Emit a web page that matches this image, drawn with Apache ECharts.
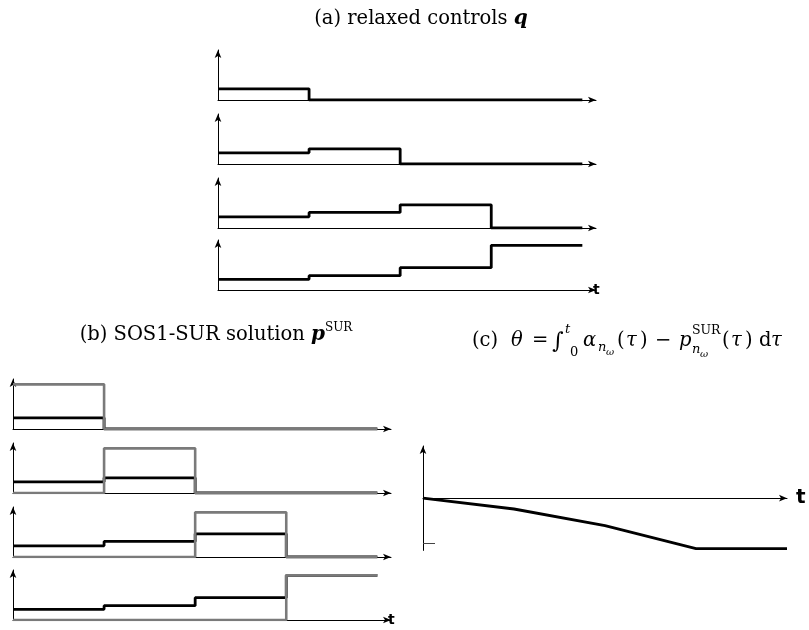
<!DOCTYPE html>
<html>
<head>
<meta charset="utf-8"/>
<title>SOS1-SUR rounding</title>
<script src="https://cdn.jsdelivr.net/npm/echarts@6/dist/echarts.min.js"></script>
<style>
html,body{margin:0;padding:0;background:#fff;}
#main{width:809px;height:630px;}
</style>
</head>
<body>
<div id="main"></div>
<script>
// time points bounding the four intervals
var tPoints = [0, 1, 2, 3, 4];

// (a) relaxed controls q, one value per interval
var q1 = [0.25, 0, 0, 0];
var q2 = [0.25, 0.34, 0, 0];
var q3 = [0.25, 0.35, 0.52, 0];
var q4 = [0.24, 0.32, 0.5, 1];

// (b) SOS1-SUR solution p
var p1 = [1, 0, 0, 0];
var p2 = [0, 1, 0, 0];
var p3 = [0, 0, 1, 0];
var p4 = [0, 0, 0, 1];

// (c) accumulated deviation theta at each time point
var theta = [0, -0.24, -0.61, -1.12, -1.12];
var thetaTicks = [-1];

var serif = '"DejaVu Serif", serif';
var chart = echarts.init(document.getElementById('main'));

var grids = [], xAxes = [], yAxes = [], series = [];

function stepData(vals) {
	return tPoints.map(function (t, i) {
		return [t, vals[Math.min(i, vals.length - 1)]];
	});
}

var axisLine = {
	show: true, onZero: false,
	symbol: ['none', 'arrow'], symbolSize: [5, 8],
	lineStyle: {color: '#000', width: 1}
};

function addSmall(left, base, showT, black, gray) {
	var gi = grids.length;
	grids.push({left: left, top: base - 50, width: 378, height: 50});
	xAxes.push({
		gridIndex: gi, type: 'value', min: 0, max: 4.15,
		axisLine: axisLine, axisTick: {show: false}, axisLabel: {show: false}, splitLine: {show: false},
		name: showT ? 't' : '', nameLocation: 'end', nameGap: -3,
		nameTextStyle: {fontFamily: 'DejaVu Sans', fontWeight: 'bold', fontSize: 14, color: '#000'}
	});
	yAxes.push({
		gridIndex: gi, type: 'value', min: 0, max: 1.12,
		axisLine: axisLine, axisTick: {show: false}, axisLabel: {show: false}, splitLine: {show: false}
	});
	series.push({
		type: 'line', step: 'end', xAxisIndex: gi, yAxisIndex: gi, data: stepData(black),
		showSymbol: false, silent: true, z: 3,
		lineStyle: {color: '#000', width: 2.8}
	});
	if (gray) {
		series.push({
			type: 'line', step: 'end', xAxisIndex: gi, yAxisIndex: gi, data: stepData(gray),
			showSymbol: false, silent: true, z: 4,
			lineStyle: {color: '#7a7a7a', width: 2.6}
		});
	}
}

var qs = [q1, q2, q3, q4];
var ps = [p1, p2, p3, p4];
var baseA = [100, 164, 228, 290];
var baseB = [429, 493, 557, 620];
for (var k = 0; k < 4; k++) addSmall(218, baseA[k], k === 3, qs[k], null);
for (var k = 0; k < 4; k++) addSmall(13, baseB[k], k === 3, qs[k], ps[k]);

// panel (c)
var gc = grids.length;
grids.push({left: 423, top: 446, width: 364, height: 104.4});
xAxes.push({
	gridIndex: gc, type: 'value', min: 0, max: 4,
	axisLine: {show: true, symbol: ['none', 'arrow'], symbolSize: [5, 8], lineStyle: {color: '#000', width: 1}},
	axisTick: {show: false}, axisLabel: {show: false}, splitLine: {show: false},
	name: 't', nameLocation: 'end', nameGap: 9,
	nameTextStyle: {fontFamily: 'DejaVu Sans', fontWeight: 'bold', fontSize: 20, color: '#000'}
});
yAxes.push({
	gridIndex: gc, type: 'value', min: -1.16, max: 1.16,
	axisLine: {show: true, symbol: ['none', 'arrow'], symbolSize: [5, 8], lineStyle: {color: '#000', width: 1}},
	axisTick: {show: true, inside: true, length: 12, customValues: thetaTicks, lineStyle: {color: '#444', width: 1}},
	axisLabel: {show: false}, splitLine: {show: false}
});
series.push({
	type: 'line', xAxisIndex: gc, yAxisIndex: gc,
	data: tPoints.map(function (t, i) { return [t, theta[i]]; }),
	showSymbol: false, silent: true, z: 3,
	lineStyle: {color: '#000', width: 2.8}
});

// helper for the formula pieces
function txt(x, y, s, size, italic) {
	return {type: 'text', x: x, y: y, silent: true, style: {
		text: s, fill: '#000',
		font: (italic ? 'italic ' : '') + size + 'px ' + serif,
		align: 'left', textAlign: 'left', verticalAlign: 'middle', textVerticalAlign: 'middle'
	}};
}

var titleRich = {
	r: {fontFamily: 'DejaVu Serif', fontSize: 19.5, lineHeight: 26, verticalAlign: 'middle'},
	b: {fontFamily: 'DejaVu Serif', fontSize: 20, fontWeight: 'bold', fontStyle: 'italic', lineHeight: 26, verticalAlign: 'middle'},
	sup: {fontFamily: 'DejaVu Serif', fontSize: 12, lineHeight: 15, verticalAlign: 'top'}
};

var m = 341; // middle line of the (c) formula
var graphics = [
	{type: 'text', x: 421, y: 19, silent: true, style: {
		text: '{r|(a) relaxed controls }{b|q}', rich: titleRich,
		align: 'center', textAlign: 'center', verticalAlign: 'middle', textVerticalAlign: 'middle'}},
	{type: 'text', x: 216, y: 335, silent: true, style: {
		text: '{r|(b) SOS1-SUR solution }{b|p}{sup|SUR}', rich: titleRich,
		align: 'center', textAlign: 'center', verticalAlign: 'middle', textVerticalAlign: 'middle'}},
	txt(472, m, '(c)', 19.5),
	txt(511, m, 'θ', 19.5, true),
	txt(532, m, '=', 19.5),
	txt(552, m + 1, '∫', 22),
	txt(565, m - 11, 't', 13, true),
	txt(570, m + 12, '0', 13),
	txt(583, m, 'α', 19.5, true),
	txt(598, m + 7, 'n', 13, true),
	txt(606, m + 11, 'ω', 10, true),
	txt(617, m, '(', 19.5),
	txt(626, m, 'τ', 19.5, true),
	txt(640, m, ')', 19.5),
	txt(655, m, '−', 19.5),
	txt(679, m, 'p', 19.5, true),
	txt(692, m - 10, 'SUR', 12.5),
	txt(692, m + 9, 'n', 13, true),
	txt(700, m + 13, 'ω', 10, true),
	txt(722, m, '(', 19.5),
	txt(731, m, 'τ', 19.5, true),
	txt(745, m, ')', 19.5),
	txt(759, m, 'd', 19.5),
	txt(771, m, 'τ', 19.5, true)
];

chart.setOption({
	animation: false,
	backgroundColor: '#fff',
	grid: grids,
	xAxis: xAxes,
	yAxis: yAxes,
	series: series,
	graphic: {elements: graphics}
});
</script>
</body>
</html>
